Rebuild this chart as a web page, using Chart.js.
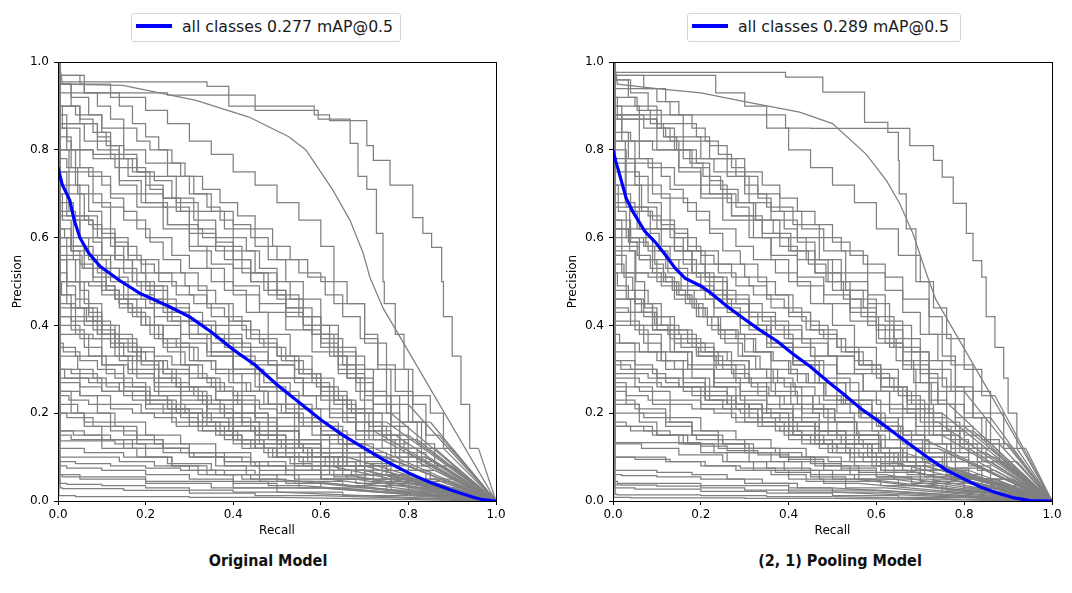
<!DOCTYPE html>
<html>
<head>
<meta charset="utf-8">
<script src="https://cdn.jsdelivr.net/npm/chart.js@4"></script>
<style>
  html, body { margin: 0; padding: 0; background: #fff; }
  body { width: 1072px; height: 593px; position: relative; overflow: hidden; }
  canvas { position: absolute; }
  .legend {
    position: absolute; top: 13px; height: 27px;
    border: 1px solid #d6d6d6; border-radius: 3px; background: #fff;
    font-family: "DejaVu Sans", sans-serif; font-size: 15.7px; color: #1a1a1a;
  }
  .legend .swatch { position: absolute; left: 4px; top: 10px; width: 36px; height: 4px; background: #0000ff; }
  .legend .label { position: absolute; left: 50px; top: 3px; line-height: 20px; white-space: nowrap; }
  .title {
    position: absolute; top: 551px; width: 300px; text-align: center;
    font-family: "Liberation Sans Narrow", "DejaVu Sans Condensed", sans-serif;
    font-weight: 700; font-size: 16px; color: #111;
  }
</style>
</head>
<body>
<canvas id="origChart" width="530" height="495" style="left:0px;top:50px"></canvas>
<canvas id="poolChart" width="517" height="495" style="left:555px;top:50px"></canvas>
<div class="legend" id="origLegend" style="left:131px;width:268px"><div class="swatch"></div><div class="label"></div></div>
<div class="legend" id="poolLegend" style="left:687px;width:272px"><div class="swatch"></div><div class="label"></div></div>
<div class="title" id="origTitle" style="left:118px"></div>
<div class="title" id="poolTitle" style="left:690px"></div>
<script>
const tickValues = [0, 0.2, 0.4, 0.6, 0.8, 1.0];
const legendOrig = "all classes 0.277 mAP@0.5";
const legendPool = "all classes 0.289 mAP@0.5";
const titleOrig = "Original Model";
const titlePool = "(2, 1) Pooling Model";
const xTitle = "Recall";
const yTitle = "Precision";

// mean PR curve over all classes (blue)
const meanRecallOrig = [0, 0.005, 0.01, 0.02, 0.027, 0.037, 0.05, 0.07, 0.096, 0.14, 0.187, 0.25, 0.3, 0.35, 0.4, 0.45, 0.5, 0.55, 0.6, 0.65, 0.7, 0.75, 0.8, 0.85, 0.9, 0.95, 0.97, 1.0];
const meanPrecOrig   = [0.76, 0.74, 0.72, 0.70, 0.685, 0.64, 0.60, 0.565, 0.535, 0.503, 0.473, 0.445, 0.42, 0.385, 0.345, 0.31, 0.265, 0.225, 0.185, 0.15, 0.12, 0.09, 0.064, 0.042, 0.024, 0.008, 0.003, 0];
const meanRecallPool = [0, 0.006, 0.012, 0.03, 0.045, 0.072, 0.096, 0.12, 0.142, 0.165, 0.2, 0.22, 0.258, 0.296, 0.334, 0.374, 0.41, 0.45, 0.49, 0.53, 0.565, 0.605, 0.645, 0.683, 0.72, 0.76, 0.8, 0.837, 0.875, 0.914, 0.95, 1.0];
const meanPrecPool   = [0.80, 0.775, 0.755, 0.69, 0.66, 0.615, 0.59, 0.56, 0.53, 0.507, 0.49, 0.476, 0.445, 0.417, 0.39, 0.364, 0.335, 0.306, 0.272, 0.24, 0.21, 0.182, 0.152, 0.124, 0.097, 0.07, 0.05, 0.032, 0.018, 0.007, 0.001, 0];

// the one densely sampled class curve: recall, precision pairs
const smoothOrig = [0.003,1, 0.01,0.95, 0.148,0.947, 0.315,0.913, 0.436,0.875, 0.527,0.83, 0.566,0.8, 0.628,0.708, 0.667,0.639, 0.697,0.564, 0.712,0.51, 0.742,0.44];
const smoothPool = [0.003,1, 0.01,0.95, 0.1,0.94, 0.2,0.93, 0.3,0.91, 0.425,0.886, 0.5,0.86, 0.577,0.79, 0.623,0.73, 0.653,0.678, 0.683,0.61, 0.714,0.518, 0.735,0.46];

// per-class precision steps: recall where the level starts, precision level
const classStepsOrig = [
  [0.003,1, 0.34,0.955, 0.39,0.945, 0.585,0.9, 0.62,0.88, 0.705,0.867, 0.72,0.81, 0.758,0.776, 0.81,0.72, 0.833,0.646, 0.853,0.61, 0.876,0.578, 0.88,0.5, 0.9,0.42, 0.92,0.33, 0.94,0.22, 0.96,0.12],
  [0.003,1, 0.06,0.95, 0.25,0.93, 0.45,0.925, 0.594,0.89, 0.667,0.87, 0.685,0.815, 0.705,0.74, 0.727,0.71, 0.742,0.61, 0.745,0.5, 0.77,0.45, 0.79,0.38, 0.81,0.3, 0.84,0.22, 0.87,0.15],
  [0.002,1, 0.05,0.97, 0.12,0.95, 0.2,0.92, 0.25,0.89, 0.3,0.86, 0.35,0.82, 0.4,0.79, 0.45,0.75, 0.5,0.72, 0.55,0.68, 0.6,0.64, 0.63,0.58, 0.66,0.5, 0.7,0.45, 0.73,0.38, 0.76,0.3, 0.8,0.22],
  [0.003,1, 0.04,0.9, 0.1,0.88, 0.15,0.85, 0.2,0.8, 0.25,0.77, 0.3,0.74, 0.35,0.7, 0.4,0.66, 0.44,0.63, 0.48,0.6, 0.52,0.55, 0.56,0.5, 0.6,0.46, 0.64,0.4, 0.68,0.34, 0.72,0.28, 0.76,0.22, 0.8,0.15],
  [0.002,1, 0.06,0.86, 0.12,0.82, 0.18,0.79, 0.22,0.75, 0.26,0.73, 0.31,0.69, 0.36,0.64, 0.4,0.6, 0.45,0.57, 0.5,0.52, 0.55,0.47, 0.6,0.42, 0.65,0.37, 0.7,0.31, 0.75,0.25, 0.78,0.2, 0.82,0.14],
  [0.005,1, 0.03,0.83, 0.08,0.8, 0.14,0.78, 0.18,0.72, 0.24,0.7, 0.3,0.67, 0.36,0.61, 0.42,0.58, 0.47,0.52, 0.52,0.48, 0.58,0.44, 0.62,0.38, 0.66,0.33, 0.7,0.28, 0.74,0.2, 0.77,0.15],
  [0.001,1, 0.02,0.78, 0.07,0.76, 0.12,0.74, 0.18,0.7, 0.25,0.67, 0.32,0.63, 0.38,0.58, 0.44,0.55, 0.5,0.5, 0.56,0.46, 0.62,0.4, 0.68,0.35, 0.72,0.3, 0.78,0.24, 0.84,0.18, 0.88,0.12],
  [0.004,1, 0.05,0.9, 0.09,0.86, 0.14,0.8, 0.19,0.73, 0.24,0.68, 0.3,0.62, 0.35,0.57, 0.4,0.54, 0.46,0.49, 0.52,0.45, 0.58,0.42, 0.64,0.38, 0.7,0.33, 0.75,0.3, 0.8,0.24, 0.83,0.18, 0.86,0.12],
  [0.002,1, 0.03,0.95, 0.07,0.92, 0.1,0.88, 0.12,0.84, 0.16,0.78, 0.2,0.74, 0.25,0.68, 0.3,0.63, 0.34,0.58, 0.38,0.53, 0.43,0.48, 0.48,0.43, 0.53,0.38, 0.58,0.33, 0.63,0.28, 0.68,0.22, 0.72,0.16],
  [0.003,1, 0.08,0.8, 0.13,0.79, 0.2,0.76, 0.27,0.74, 0.32,0.68, 0.38,0.66, 0.45,0.62, 0.5,0.58, 0.55,0.55, 0.6,0.52, 0.63,0.5, 0.7,0.45, 0.75,0.36, 0.8,0.3, 0.85,0.24, 0.88,0.2, 0.9,0.12],
  [0.002,1, 0.05,0.72, 0.1,0.7, 0.15,0.67, 0.2,0.64, 0.26,0.6, 0.3,0.56, 0.35,0.53, 0.4,0.5, 0.46,0.47, 0.52,0.43, 0.58,0.39, 0.64,0.34, 0.7,0.29, 0.76,0.24, 0.82,0.18, 0.86,0.13, 0.9,0.08],
  [0.002,1, 0.02,0.7, 0.05,0.65, 0.1,0.6, 0.15,0.56, 0.2,0.52, 0.25,0.48, 0.3,0.44, 0.35,0.4, 0.4,0.36, 0.45,0.33, 0.5,0.29, 0.55,0.25, 0.6,0.21, 0.65,0.17, 0.7,0.13, 0.75,0.1],
  [0.004,1, 0.04,0.66, 0.08,0.64, 0.13,0.62, 0.18,0.58, 0.23,0.55, 0.29,0.52, 0.34,0.49, 0.39,0.45, 0.44,0.41, 0.5,0.37, 0.55,0.33, 0.6,0.29, 0.65,0.24, 0.7,0.2, 0.76,0.15, 0.8,0.11],
  [0.001,1, 0.03,0.62, 0.08,0.58, 0.14,0.53, 0.19,0.5, 0.24,0.46, 0.3,0.43, 0.36,0.4, 0.42,0.37, 0.48,0.34, 0.54,0.31, 0.6,0.27, 0.66,0.23, 0.72,0.18, 0.78,0.14, 0.84,0.1],
  [0.003,1, 0.02,0.85, 0.04,0.8, 0.07,0.72, 0.1,0.66, 0.13,0.6, 0.17,0.55, 0.21,0.5, 0.25,0.45, 0.3,0.41, 0.35,0.37, 0.4,0.33, 0.45,0.3, 0.5,0.26, 0.55,0.22, 0.6,0.19, 0.66,0.15, 0.72,0.11],
  [0.005,1, 0.06,0.58, 0.12,0.56, 0.18,0.53, 0.24,0.49, 0.3,0.45, 0.36,0.41, 0.42,0.38, 0.48,0.35, 0.54,0.31, 0.6,0.28, 0.66,0.25, 0.72,0.21, 0.78,0.17, 0.83,0.12, 0.87,0.08],
  [0.002,1, 0.01,0.9, 0.05,0.85, 0.08,0.76, 0.12,0.68, 0.16,0.6, 0.2,0.55, 0.25,0.49, 0.3,0.43, 0.35,0.38, 0.4,0.34, 0.46,0.3, 0.52,0.26, 0.58,0.21, 0.64,0.17, 0.7,0.13],
  [0.004,1, 0.03,0.6, 0.07,0.57, 0.11,0.55, 0.16,0.51, 0.22,0.47, 0.28,0.42, 0.34,0.38, 0.4,0.34, 0.47,0.3, 0.53,0.27, 0.59,0.24, 0.65,0.21, 0.71,0.18, 0.77,0.14, 0.82,0.1, 0.86,0.07],
  [0.001,1, 0.04,0.55, 0.1,0.5, 0.16,0.47, 0.22,0.44, 0.28,0.4, 0.34,0.36, 0.4,0.33, 0.46,0.29, 0.52,0.25, 0.58,0.22, 0.64,0.18, 0.7,0.15, 0.76,0.12, 0.82,0.09],
  [0.003,1, 0.07,0.5, 0.13,0.49, 0.2,0.46, 0.26,0.44, 0.32,0.41, 0.38,0.38, 0.44,0.35, 0.5,0.31, 0.56,0.28, 0.62,0.24, 0.68,0.2, 0.74,0.16, 0.8,0.12, 0.85,0.08],
  [0.002,1, 0.02,0.75, 0.05,0.7, 0.09,0.65, 0.13,0.6, 0.17,0.55, 0.22,0.5, 0.27,0.46, 0.33,0.43, 0.39,0.4, 0.44,0.36, 0.5,0.32, 0.56,0.28, 0.62,0.24, 0.68,0.19, 0.74,0.14],
  [0.002,1, 0.03,0.45, 0.08,0.42, 0.13,0.39, 0.18,0.35, 0.24,0.32, 0.3,0.29, 0.36,0.26, 0.42,0.23, 0.48,0.2, 0.54,0.17, 0.6,0.14, 0.66,0.11, 0.72,0.08, 0.78,0.06],
  [0.004,1, 0.05,0.4, 0.1,0.37, 0.16,0.33, 0.22,0.3, 0.28,0.27, 0.34,0.24, 0.4,0.21, 0.46,0.18, 0.52,0.15, 0.58,0.12, 0.64,0.1, 0.7,0.08, 0.76,0.06],
  [0.001,1, 0.02,0.6, 0.05,0.5, 0.09,0.44, 0.13,0.38, 0.17,0.33, 0.22,0.29, 0.28,0.25, 0.34,0.22, 0.4,0.19, 0.46,0.16, 0.52,0.13, 0.58,0.11, 0.64,0.09, 0.7,0.07],
  [0.003,1, 0.04,0.35, 0.1,0.33, 0.16,0.31, 0.22,0.29, 0.28,0.26, 0.34,0.23, 0.4,0.2, 0.46,0.17, 0.52,0.15, 0.58,0.12, 0.64,0.1, 0.7,0.07],
  [0.005,1, 0.13,0.137, 0.2,0.13, 0.28,0.12, 0.36,0.11, 0.44,0.1, 0.52,0.08, 0.6,0.07, 0.68,0.05],
  [0.002,1, 0.06,0.5, 0.1,0.45, 0.14,0.4, 0.18,0.36, 0.23,0.32, 0.28,0.28, 0.33,0.25, 0.38,0.22, 0.44,0.19, 0.5,0.16, 0.56,0.13, 0.62,0.11, 0.68,0.09, 0.74,0.07, 0.8,0.05],
  [0.003,1, 0.03,0.3, 0.09,0.29, 0.15,0.27, 0.21,0.25, 0.27,0.22, 0.33,0.2, 0.39,0.18, 0.45,0.16, 0.51,0.14, 0.57,0.12, 0.63,0.1, 0.7,0.08, 0.76,0.06, 0.82,0.04],
  [0.002,1, 0.02,0.55, 0.04,0.45, 0.07,0.38, 0.11,0.33, 0.15,0.29, 0.2,0.26, 0.26,0.23, 0.32,0.2, 0.38,0.17, 0.44,0.14, 0.5,0.12, 0.56,0.1, 0.62,0.08],
  [0.004,1, 0.07,0.28, 0.14,0.27, 0.2,0.25, 0.27,0.23, 0.33,0.21, 0.39,0.19, 0.45,0.17, 0.5,0.15, 0.56,0.13, 0.62,0.11, 0.68,0.09, 0.74,0.07],
  [0.001,1, 0.03,0.42, 0.06,0.39, 0.1,0.35, 0.15,0.31, 0.2,0.27, 0.25,0.24, 0.3,0.21, 0.36,0.18, 0.42,0.15, 0.48,0.12, 0.54,0.1, 0.6,0.08, 0.66,0.06],
  [0.003,1, 0.05,0.25, 0.12,0.24, 0.19,0.22, 0.26,0.2, 0.33,0.18, 0.4,0.16, 0.47,0.14, 0.54,0.12, 0.61,0.1, 0.68,0.08, 0.75,0.06],
  [0.002,1, 0.04,0.47, 0.08,0.44, 0.12,0.41, 0.17,0.38, 0.22,0.34, 0.27,0.3, 0.32,0.26, 0.37,0.23, 0.42,0.2, 0.48,0.17, 0.54,0.14, 0.6,0.12, 0.66,0.1, 0.72,0.08, 0.78,0.06],
  [0.002,1, 0.02,0.2, 0.08,0.19, 0.15,0.17, 0.22,0.15, 0.3,0.13, 0.38,0.11, 0.46,0.09, 0.54,0.07, 0.62,0.05],
  [0.004,1, 0.03,0.15, 0.1,0.14, 0.18,0.12, 0.26,0.1, 0.34,0.08, 0.42,0.06, 0.5,0.05],
  [0.001,1, 0.14,0.1, 0.22,0.09, 0.3,0.08, 0.38,0.07, 0.46,0.06, 0.55,0.045, 0.64,0.03],
  [0.003,1, 0.02,0.04, 0.1,0.038, 0.2,0.035, 0.3,0.03, 0.4,0.025, 0.5,0.02],
  [0.005,1, 0.01,0.03, 0.15,0.028, 0.3,0.024, 0.45,0.018, 0.6,0.012],
  [0.002,1, 0.03,0.25, 0.06,0.2, 0.1,0.17, 0.15,0.14, 0.2,0.12, 0.26,0.1, 0.32,0.08, 0.4,0.06, 0.48,0.045, 0.56,0.035],
  [0.003,1, 0.05,0.3, 0.09,0.24, 0.13,0.2, 0.18,0.17, 0.24,0.14, 0.3,0.12, 0.36,0.1, 0.43,0.08, 0.5,0.06, 0.58,0.045],
  [0.001,1, 0.02,0.08, 0.1,0.075, 0.2,0.07, 0.3,0.06, 0.4,0.05, 0.5,0.04, 0.6,0.03],
  [0.002,1, 0.04,0.012, 0.3,0.01, 0.5,0.008],
  [0.004,1, 0.06,0.2, 0.12,0.18, 0.18,0.16, 0.24,0.14, 0.3,0.12, 0.38,0.1, 0.46,0.08, 0.54,0.06, 0.62,0.04],
  [0.002,1, 0.14,0.93, 0.17,0.9, 0.2,0.86, 0.23,0.83, 0.26,0.8, 0.28,0.77, 0.31,0.74, 0.34,0.7, 0.37,0.67, 0.4,0.64, 0.43,0.6, 0.46,0.57, 0.5,0.53, 0.53,0.5, 0.56,0.46, 0.6,0.42, 0.63,0.38, 0.66,0.33, 0.69,0.28, 0.72,0.23, 0.75,0.18],
  [0.003,1, 0.09,0.86, 0.12,0.83, 0.15,0.81, 0.18,0.78, 0.21,0.75, 0.24,0.71, 0.27,0.69, 0.3,0.66, 0.33,0.62, 0.36,0.6, 0.4,0.57, 0.44,0.53, 0.48,0.5, 0.52,0.47, 0.56,0.43, 0.6,0.39, 0.64,0.36, 0.68,0.31, 0.72,0.27, 0.76,0.22, 0.8,0.17, 0.84,0.12],
  [0.002,1, 0.03,0.42, 0.06,0.41, 0.1,0.4, 0.14,0.38, 0.18,0.37, 0.22,0.35, 0.26,0.33, 0.3,0.31, 0.34,0.29, 0.38,0.27, 0.42,0.25, 0.46,0.23, 0.5,0.21, 0.54,0.19, 0.58,0.17, 0.62,0.15, 0.66,0.13, 0.7,0.11, 0.74,0.09, 0.8,0.07, 0.86,0.05],
  [0.004,1, 0.045,0.33, 0.08,0.3, 0.11,0.28, 0.14,0.26, 0.17,0.25, 0.2,0.23, 0.24,0.22, 0.28,0.2, 0.32,0.19, 0.36,0.17, 0.4,0.16, 0.45,0.14, 0.5,0.12, 0.55,0.11, 0.6,0.09, 0.65,0.08, 0.7,0.06, 0.76,0.05],
  [0.002,1, 0.02,0.52, 0.04,0.49, 0.07,0.46, 0.1,0.43, 0.13,0.4, 0.16,0.37, 0.19,0.35, 0.22,0.32, 0.26,0.3, 0.3,0.27, 0.34,0.25, 0.38,0.22, 0.42,0.2, 0.46,0.18, 0.5,0.16, 0.55,0.14, 0.6,0.12, 0.65,0.1, 0.7,0.08, 0.76,0.06, 0.82,0.045],
  [0.003,1, 0.07,0.65, 0.1,0.63, 0.13,0.61, 0.16,0.59, 0.19,0.56, 0.22,0.54, 0.26,0.52, 0.3,0.49, 0.34,0.47, 0.38,0.44, 0.42,0.42, 0.46,0.39, 0.5,0.36, 0.54,0.33, 0.58,0.3, 0.62,0.27, 0.66,0.24, 0.7,0.21, 0.74,0.18, 0.78,0.15, 0.82,0.12, 0.86,0.09],
  [0.001,1, 0.012,0.36, 0.05,0.34, 0.09,0.32, 0.13,0.3, 0.17,0.28, 0.21,0.26, 0.25,0.24, 0.29,0.22, 0.33,0.2, 0.37,0.18, 0.41,0.16, 0.45,0.14, 0.49,0.12, 0.53,0.1, 0.58,0.085, 0.63,0.07, 0.68,0.055],
  [0.002,1, 0.055,0.56, 0.08,0.53, 0.11,0.5, 0.14,0.48, 0.17,0.45, 0.2,0.42, 0.23,0.4, 0.27,0.37, 0.31,0.35, 0.35,0.32, 0.39,0.3, 0.43,0.27, 0.47,0.25, 0.51,0.22, 0.55,0.2, 0.6,0.17, 0.65,0.14, 0.7,0.11, 0.75,0.085, 0.8,0.06],
  [0.004,1, 0.1,0.75, 0.12,0.72, 0.15,0.69, 0.18,0.66, 0.21,0.62, 0.24,0.59, 0.28,0.55, 0.32,0.52, 0.36,0.48, 0.4,0.45, 0.44,0.41, 0.48,0.38, 0.52,0.35, 0.56,0.32, 0.6,0.29, 0.64,0.26, 0.68,0.23, 0.72,0.2, 0.76,0.16, 0.8,0.13, 0.84,0.1],
  [0.002,1, 0.025,0.24, 0.07,0.23, 0.12,0.22, 0.17,0.21, 0.22,0.2, 0.27,0.19, 0.32,0.17, 0.37,0.16, 0.42,0.15, 0.47,0.13, 0.52,0.12, 0.57,0.1, 0.62,0.09, 0.67,0.07, 0.72,0.06, 0.78,0.045],
  [0.003,1, 0.035,0.68, 0.05,0.64, 0.07,0.6, 0.09,0.56, 0.11,0.52, 0.13,0.49, 0.16,0.46, 0.19,0.43, 0.22,0.4, 0.25,0.37, 0.29,0.34, 0.33,0.31, 0.37,0.28, 0.41,0.25, 0.45,0.22, 0.5,0.19, 0.55,0.16, 0.6,0.13, 0.65,0.1, 0.7,0.08],
  [0.001,1, 0.008,0.5, 0.03,0.47, 0.06,0.44, 0.09,0.41, 0.12,0.38, 0.15,0.36, 0.19,0.33, 0.23,0.31, 0.27,0.28, 0.31,0.26, 0.35,0.24, 0.4,0.22, 0.45,0.2, 0.5,0.18, 0.55,0.16, 0.6,0.14, 0.65,0.12, 0.7,0.1, 0.75,0.08, 0.8,0.06, 0.85,0.04],
  [0.005,1, 0.06,0.16, 0.12,0.15, 0.18,0.14, 0.24,0.13, 0.3,0.12, 0.36,0.11, 0.42,0.1, 0.48,0.09, 0.54,0.08, 0.6,0.07, 0.66,0.06, 0.72,0.05, 0.8,0.04],
  [0.002,1, 0.04,0.09, 0.12,0.085, 0.2,0.08, 0.28,0.075, 0.36,0.07, 0.44,0.06, 0.52,0.05, 0.6,0.04, 0.7,0.03],
  [0.003,1, 0.12,0.6, 0.15,0.58, 0.19,0.55, 0.23,0.52, 0.27,0.5, 0.31,0.47, 0.35,0.45, 0.39,0.42, 0.43,0.4, 0.47,0.37, 0.51,0.35, 0.55,0.32, 0.59,0.29, 0.63,0.26, 0.67,0.23, 0.71,0.2, 0.75,0.17, 0.79,0.14, 0.84,0.11, 0.88,0.08],
  [0.002,1, 0.02,0.88, 0.03,0.82, 0.045,0.76, 0.06,0.7, 0.08,0.64, 0.1,0.59, 0.12,0.55, 0.15,0.5, 0.18,0.46, 0.21,0.42, 0.24,0.38, 0.28,0.35, 0.32,0.31, 0.36,0.28, 0.4,0.25, 0.45,0.22, 0.5,0.19, 0.55,0.16, 0.6,0.13, 0.66,0.1],
  [0.004,1, 0.05,0.27, 0.1,0.26, 0.15,0.25, 0.2,0.24, 0.25,0.22, 0.3,0.21, 0.35,0.2, 0.4,0.18, 0.45,0.17, 0.5,0.15, 0.55,0.14, 0.6,0.12, 0.65,0.11, 0.7,0.09, 0.75,0.08, 0.8,0.06, 0.86,0.05],
  [0.001,1, 0.015,0.62, 0.03,0.6, 0.05,0.57, 0.08,0.54, 0.11,0.51, 0.14,0.48, 0.17,0.45, 0.2,0.43, 0.24,0.4, 0.28,0.37, 0.32,0.35, 0.36,0.32, 0.4,0.3, 0.44,0.27, 0.48,0.25, 0.52,0.22, 0.56,0.2, 0.6,0.17, 0.65,0.15, 0.7,0.12, 0.75,0.1, 0.8,0.08],
  [0.003,1, 0.03,0.95, 0.05,0.9, 0.08,0.87, 0.11,0.84, 0.14,0.81, 0.17,0.78, 0.2,0.75, 0.24,0.72, 0.28,0.69, 0.32,0.66, 0.36,0.62, 0.4,0.59, 0.44,0.55, 0.48,0.52, 0.52,0.48, 0.56,0.44, 0.6,0.4, 0.64,0.35, 0.68,0.3, 0.72,0.25, 0.76,0.2],
  [0.002,1, 0.01,0.06, 0.2,0.055, 0.4,0.045, 0.6,0.03],
  [0.004,1, 0.08,0.38, 0.12,0.37, 0.16,0.35, 0.2,0.34, 0.25,0.32, 0.3,0.3, 0.35,0.28, 0.4,0.26, 0.45,0.24, 0.5,0.22, 0.55,0.2, 0.6,0.18, 0.65,0.15, 0.7,0.13, 0.75,0.11, 0.8,0.09, 0.85,0.07, 0.9,0.05],
  [0.002,1, 0.06,0.97, 0.09,0.93, 0.12,0.9, 0.15,0.87, 0.18,0.85, 0.21,0.82, 0.25,0.8, 0.29,0.77, 0.33,0.74, 0.37,0.71, 0.41,0.68, 0.45,0.65, 0.49,0.62, 0.53,0.58, 0.57,0.55, 0.61,0.51, 0.65,0.47, 0.69,0.42, 0.73,0.37, 0.77,0.31, 0.81,0.25, 0.85,0.18],
  [0.002,1, 0.015,0.3, 0.1,0.28, 0.2,0.25, 0.3,0.21, 0.4,0.17, 0.5,0.13, 0.6,0.1, 0.7,0.07, 0.8,0.05, 0.9,0.03],
  [0.003,1, 0.045,0.22, 0.12,0.2, 0.2,0.18, 0.28,0.15, 0.36,0.13, 0.44,0.11, 0.52,0.09, 0.6,0.07, 0.7,0.05, 0.8,0.035, 0.9,0.02],
  [0.001,1, 0.06,0.12, 0.15,0.11, 0.25,0.1, 0.35,0.085, 0.45,0.07, 0.55,0.06, 0.65,0.045, 0.75,0.035, 0.85,0.02],
  [0.002,1, 0.025,0.8, 0.035,0.66, 0.05,0.55, 0.07,0.48, 0.1,0.42, 0.14,0.37, 0.18,0.32, 0.23,0.28, 0.28,0.24, 0.34,0.2, 0.4,0.17, 0.47,0.14, 0.54,0.11, 0.62,0.08, 0.7,0.06, 0.8,0.04],
  [0.004,1, 0.065,0.44, 0.1,0.41, 0.14,0.38, 0.19,0.35, 0.24,0.32, 0.3,0.29, 0.36,0.26, 0.42,0.23, 0.48,0.2, 0.55,0.17, 0.62,0.14, 0.69,0.11, 0.76,0.08, 0.84,0.05, 0.92,0.03],
  [0.003,1, 0.01,0.7, 0.03,0.64, 0.06,0.58, 0.1,0.53, 0.14,0.48, 0.19,0.44, 0.24,0.4, 0.3,0.36, 0.36,0.32, 0.42,0.29, 0.48,0.25, 0.54,0.22, 0.6,0.19, 0.66,0.16, 0.72,0.13, 0.78,0.1, 0.84,0.07, 0.9,0.045],
  [0.002,1, 0.05,0.06, 0.2,0.05, 0.35,0.04, 0.5,0.03, 0.65,0.02, 0.8,0.012],
  [0.001,1, 0.035,0.16, 0.1,0.15, 0.17,0.14, 0.24,0.12, 0.31,0.11, 0.38,0.1, 0.45,0.09, 0.52,0.08, 0.6,0.06, 0.68,0.05, 0.76,0.04, 0.85,0.025]
];

const classStepsPool = [
  [0.003,1, 0.393,0.977, 0.478,0.966, 0.573,0.932, 0.626,0.863, 0.65,0.84, 0.652,0.776, 0.668,0.7, 0.69,0.62, 0.72,0.5, 0.75,0.42, 0.78,0.33, 0.8,0.25],
  [0.003,1, 0.393,0.88, 0.45,0.85, 0.676,0.849, 0.73,0.81, 0.75,0.776, 0.775,0.738, 0.805,0.678, 0.82,0.61, 0.84,0.548, 0.85,0.51, 0.87,0.42, 0.89,0.35, 0.9,0.28, 0.92,0.2, 0.94,0.12],
  [0.002,1, 0.234,0.97, 0.3,0.93, 0.35,0.9, 0.4,0.85, 0.45,0.8, 0.5,0.76, 0.55,0.72, 0.6,0.68, 0.65,0.62, 0.7,0.56, 0.73,0.5, 0.76,0.44, 0.8,0.37, 0.84,0.3, 0.87,0.24],
  [0.002,1, 0.05,0.92, 0.1,0.9, 0.16,0.86, 0.22,0.82, 0.28,0.78, 0.33,0.74, 0.38,0.7, 0.43,0.66, 0.48,0.62, 0.53,0.57, 0.58,0.52, 0.62,0.47, 0.66,0.41, 0.7,0.35, 0.74,0.29, 0.78,0.22, 0.82,0.16],
  [0.003,1, 0.07,0.88, 0.12,0.85, 0.2,0.83, 0.26,0.78, 0.31,0.74, 0.36,0.68, 0.42,0.64, 0.47,0.6, 0.52,0.55, 0.58,0.5, 0.63,0.45, 0.68,0.4, 0.72,0.34, 0.76,0.28, 0.8,0.22, 0.84,0.15],
  [0.004,1, 0.04,0.84, 0.09,0.82, 0.15,0.8, 0.2,0.75, 0.26,0.72, 0.32,0.68, 0.38,0.64, 0.44,0.6, 0.49,0.55, 0.54,0.5, 0.6,0.46, 0.64,0.4, 0.68,0.35, 0.72,0.3, 0.76,0.23, 0.8,0.17],
  [0.001,1, 0.03,0.8, 0.08,0.78, 0.14,0.76, 0.2,0.72, 0.27,0.69, 0.34,0.65, 0.4,0.6, 0.46,0.57, 0.52,0.52, 0.58,0.48, 0.64,0.42, 0.7,0.37, 0.75,0.32, 0.8,0.26, 0.86,0.2, 0.9,0.13],
  [0.005,1, 0.06,0.9, 0.1,0.87, 0.15,0.82, 0.2,0.76, 0.25,0.7, 0.31,0.64, 0.36,0.6, 0.42,0.56, 0.48,0.51, 0.54,0.47, 0.6,0.43, 0.66,0.39, 0.72,0.34, 0.77,0.3, 0.82,0.25, 0.85,0.19, 0.88,0.13],
  [0.002,1, 0.04,0.96, 0.08,0.93, 0.11,0.89, 0.14,0.85, 0.18,0.8, 0.22,0.76, 0.27,0.7, 0.32,0.65, 0.36,0.6, 0.4,0.55, 0.45,0.5, 0.5,0.45, 0.55,0.4, 0.6,0.35, 0.65,0.3, 0.7,0.24, 0.74,0.18],
  [0.003,1, 0.1,0.82, 0.16,0.8, 0.23,0.78, 0.3,0.75, 0.35,0.7, 0.41,0.67, 0.47,0.63, 0.52,0.6, 0.57,0.57, 0.62,0.54, 0.66,0.51, 0.72,0.46, 0.77,0.38, 0.82,0.31, 0.86,0.25, 0.89,0.2, 0.92,0.12],
  [0.002,1, 0.06,0.75, 0.11,0.72, 0.17,0.69, 0.22,0.66, 0.28,0.62, 0.32,0.58, 0.37,0.55, 0.42,0.52, 0.48,0.49, 0.54,0.45, 0.6,0.41, 0.66,0.36, 0.72,0.31, 0.78,0.25, 0.84,0.19, 0.88,0.14, 0.92,0.09],
  [0.002,1, 0.03,0.72, 0.06,0.67, 0.11,0.62, 0.16,0.58, 0.21,0.54, 0.26,0.5, 0.31,0.46, 0.36,0.42, 0.41,0.38, 0.46,0.35, 0.51,0.31, 0.56,0.27, 0.61,0.23, 0.66,0.19, 0.71,0.15, 0.76,0.11],
  [0.004,1, 0.05,0.68, 0.09,0.66, 0.14,0.64, 0.19,0.6, 0.24,0.57, 0.3,0.54, 0.35,0.51, 0.4,0.47, 0.45,0.43, 0.51,0.39, 0.56,0.35, 0.61,0.31, 0.66,0.26, 0.71,0.21, 0.77,0.16, 0.81,0.12],
  [0.001,1, 0.04,0.64, 0.09,0.6, 0.15,0.55, 0.2,0.52, 0.25,0.48, 0.31,0.45, 0.37,0.42, 0.43,0.39, 0.49,0.36, 0.55,0.33, 0.61,0.29, 0.67,0.25, 0.73,0.2, 0.79,0.15, 0.85,0.11],
  [0.003,1, 0.02,0.88, 0.05,0.82, 0.08,0.74, 0.11,0.68, 0.14,0.62, 0.18,0.57, 0.22,0.52, 0.26,0.47, 0.31,0.43, 0.36,0.39, 0.41,0.35, 0.46,0.31, 0.51,0.27, 0.56,0.23, 0.62,0.2, 0.68,0.16, 0.74,0.12],
  [0.005,1, 0.07,0.6, 0.13,0.58, 0.19,0.55, 0.25,0.51, 0.31,0.47, 0.37,0.43, 0.43,0.4, 0.49,0.37, 0.55,0.33, 0.61,0.3, 0.67,0.26, 0.73,0.22, 0.79,0.18, 0.84,0.13, 0.88,0.09],
  [0.002,1, 0.01,0.92, 0.06,0.87, 0.09,0.78, 0.13,0.7, 0.17,0.62, 0.21,0.57, 0.26,0.51, 0.31,0.45, 0.36,0.4, 0.41,0.36, 0.47,0.32, 0.53,0.27, 0.59,0.22, 0.65,0.18, 0.71,0.14],
  [0.004,1, 0.04,0.62, 0.08,0.59, 0.12,0.57, 0.17,0.53, 0.23,0.49, 0.29,0.44, 0.35,0.4, 0.41,0.36, 0.48,0.32, 0.54,0.28, 0.6,0.25, 0.66,0.22, 0.72,0.19, 0.78,0.15, 0.83,0.11, 0.87,0.07],
  [0.001,1, 0.05,0.57, 0.11,0.52, 0.17,0.49, 0.23,0.46, 0.29,0.42, 0.35,0.38, 0.41,0.35, 0.47,0.31, 0.53,0.27, 0.59,0.23, 0.65,0.19, 0.71,0.16, 0.77,0.13, 0.83,0.09],
  [0.003,1, 0.08,0.52, 0.14,0.51, 0.21,0.48, 0.27,0.46, 0.33,0.43, 0.39,0.4, 0.45,0.37, 0.51,0.33, 0.57,0.29, 0.63,0.25, 0.69,0.21, 0.75,0.17, 0.81,0.13, 0.86,0.09],
  [0.002,1, 0.03,0.78, 0.06,0.72, 0.1,0.67, 0.14,0.62, 0.18,0.57, 0.23,0.52, 0.28,0.48, 0.34,0.45, 0.4,0.41, 0.45,0.37, 0.51,0.33, 0.57,0.29, 0.63,0.25, 0.69,0.2, 0.75,0.15],
  [0.002,1, 0.04,0.46, 0.09,0.43, 0.14,0.4, 0.19,0.36, 0.25,0.33, 0.31,0.3, 0.37,0.27, 0.43,0.24, 0.49,0.21, 0.55,0.18, 0.61,0.15, 0.67,0.12, 0.73,0.09, 0.79,0.06],
  [0.004,1, 0.06,0.41, 0.11,0.38, 0.17,0.34, 0.23,0.31, 0.29,0.28, 0.35,0.25, 0.41,0.22, 0.47,0.19, 0.53,0.16, 0.59,0.13, 0.65,0.11, 0.71,0.09, 0.77,0.07],
  [0.001,1, 0.02,0.62, 0.05,0.52, 0.09,0.45, 0.13,0.39, 0.18,0.34, 0.23,0.3, 0.29,0.26, 0.35,0.23, 0.41,0.2, 0.47,0.17, 0.53,0.14, 0.59,0.12, 0.65,0.1, 0.71,0.08],
  [0.003,1, 0.05,0.36, 0.11,0.34, 0.17,0.32, 0.23,0.3, 0.29,0.27, 0.35,0.24, 0.41,0.21, 0.47,0.18, 0.53,0.16, 0.59,0.13, 0.65,0.11, 0.71,0.08],
  [0.005,1, 0.2,0.133, 0.26,0.125, 0.33,0.115, 0.4,0.105, 0.48,0.095, 0.56,0.08, 0.64,0.065, 0.72,0.05],
  [0.002,1, 0.07,0.2, 0.12,0.19, 0.18,0.17, 0.25,0.15, 0.32,0.13, 0.4,0.11, 0.48,0.09, 0.56,0.07, 0.64,0.05],
  [0.003,1, 0.04,0.31, 0.1,0.3, 0.16,0.28, 0.22,0.26, 0.28,0.23, 0.34,0.21, 0.4,0.19, 0.46,0.17, 0.52,0.15, 0.58,0.13, 0.64,0.11, 0.71,0.09, 0.77,0.07, 0.83,0.05],
  [0.002,1, 0.03,0.56, 0.05,0.46, 0.08,0.39, 0.12,0.34, 0.16,0.3, 0.21,0.27, 0.27,0.24, 0.33,0.21, 0.39,0.18, 0.45,0.15, 0.51,0.13, 0.57,0.11, 0.63,0.09],
  [0.004,1, 0.08,0.29, 0.15,0.28, 0.21,0.26, 0.28,0.24, 0.34,0.22, 0.4,0.2, 0.46,0.18, 0.51,0.16, 0.57,0.14, 0.63,0.12, 0.69,0.1, 0.75,0.08],
  [0.001,1, 0.04,0.43, 0.07,0.4, 0.11,0.36, 0.16,0.32, 0.21,0.28, 0.26,0.25, 0.31,0.22, 0.37,0.19, 0.43,0.16, 0.49,0.13, 0.55,0.11, 0.61,0.09, 0.67,0.07],
  [0.003,1, 0.06,0.26, 0.13,0.25, 0.2,0.23, 0.27,0.21, 0.34,0.19, 0.41,0.17, 0.48,0.15, 0.55,0.13, 0.62,0.11, 0.69,0.09, 0.76,0.07],
  [0.002,1, 0.05,0.48, 0.09,0.45, 0.13,0.42, 0.18,0.39, 0.23,0.35, 0.28,0.31, 0.33,0.27, 0.38,0.24, 0.43,0.21, 0.49,0.18, 0.55,0.15, 0.61,0.13, 0.67,0.11, 0.73,0.09, 0.79,0.07],
  [0.002,1, 0.03,0.18, 0.09,0.17, 0.16,0.15, 0.23,0.13, 0.31,0.11, 0.39,0.09, 0.47,0.07, 0.55,0.05],
  [0.004,1, 0.1,0.07, 0.18,0.065, 0.26,0.06, 0.34,0.05, 0.42,0.04, 0.5,0.03],
  [0.001,1, 0.12,0.1, 0.2,0.09, 0.28,0.08, 0.36,0.07, 0.44,0.06, 0.53,0.045, 0.62,0.03],
  [0.003,1, 0.02,0.037, 0.1,0.036, 0.2,0.034, 0.3,0.03, 0.4,0.025, 0.5,0.02],
  [0.005,1, 0.01,0.015, 0.2,0.014, 0.35,0.012, 0.5,0.01],
  [0.002,1, 0.03,0.27, 0.06,0.22, 0.1,0.18, 0.15,0.15, 0.2,0.13, 0.26,0.11, 0.32,0.09, 0.4,0.07, 0.48,0.05, 0.56,0.04],
  [0.003,1, 0.05,0.32, 0.09,0.26, 0.13,0.22, 0.18,0.18, 0.24,0.15, 0.3,0.13, 0.36,0.11, 0.43,0.09, 0.5,0.07, 0.58,0.05],
  [0.001,1, 0.02,0.06, 0.1,0.058, 0.2,0.055, 0.3,0.05, 0.4,0.04, 0.5,0.03, 0.6,0.02],
  [0.002,1, 0.04,0.008, 0.3,0.007, 0.5,0.006],
  [0.004,1, 0.06,0.22, 0.12,0.2, 0.18,0.18, 0.24,0.16, 0.3,0.14, 0.38,0.12, 0.46,0.1, 0.54,0.08, 0.62,0.06],
  [0.002,1, 0.12,0.94, 0.15,0.91, 0.18,0.88, 0.21,0.85, 0.24,0.82, 0.27,0.79, 0.3,0.76, 0.33,0.72, 0.36,0.69, 0.39,0.66, 0.42,0.62, 0.46,0.59, 0.5,0.55, 0.53,0.52, 0.57,0.48, 0.6,0.44, 0.63,0.4, 0.66,0.35, 0.69,0.3, 0.72,0.25, 0.75,0.2],
  [0.003,1, 0.1,0.87, 0.13,0.85, 0.16,0.82, 0.19,0.8, 0.22,0.77, 0.25,0.73, 0.28,0.7, 0.31,0.67, 0.34,0.64, 0.38,0.61, 0.42,0.58, 0.46,0.55, 0.5,0.52, 0.54,0.48, 0.58,0.44, 0.62,0.4, 0.66,0.36, 0.7,0.32, 0.74,0.27, 0.78,0.22, 0.82,0.17, 0.86,0.12],
  [0.002,1, 0.035,0.44, 0.07,0.43, 0.11,0.42, 0.15,0.4, 0.19,0.38, 0.23,0.36, 0.27,0.34, 0.31,0.32, 0.35,0.3, 0.39,0.28, 0.43,0.26, 0.47,0.24, 0.51,0.22, 0.55,0.2, 0.59,0.18, 0.63,0.16, 0.67,0.14, 0.71,0.12, 0.75,0.1, 0.81,0.075, 0.87,0.05],
  [0.004,1, 0.05,0.34, 0.09,0.31, 0.12,0.29, 0.15,0.27, 0.18,0.26, 0.21,0.24, 0.25,0.23, 0.29,0.21, 0.33,0.2, 0.37,0.18, 0.41,0.17, 0.46,0.15, 0.51,0.13, 0.56,0.12, 0.61,0.1, 0.66,0.085, 0.71,0.07, 0.77,0.055],
  [0.002,1, 0.025,0.54, 0.045,0.51, 0.08,0.48, 0.11,0.45, 0.14,0.42, 0.17,0.39, 0.2,0.37, 0.23,0.34, 0.27,0.32, 0.31,0.29, 0.35,0.27, 0.39,0.24, 0.43,0.22, 0.47,0.2, 0.51,0.18, 0.56,0.16, 0.61,0.14, 0.66,0.12, 0.71,0.09, 0.77,0.07, 0.83,0.05],
  [0.003,1, 0.08,0.67, 0.11,0.65, 0.14,0.63, 0.17,0.61, 0.2,0.58, 0.23,0.56, 0.27,0.54, 0.31,0.51, 0.35,0.49, 0.39,0.46, 0.43,0.44, 0.47,0.41, 0.51,0.38, 0.55,0.35, 0.59,0.32, 0.63,0.29, 0.67,0.26, 0.71,0.23, 0.75,0.2, 0.79,0.16, 0.83,0.13, 0.87,0.1],
  [0.001,1, 0.015,0.38, 0.06,0.36, 0.1,0.34, 0.14,0.32, 0.18,0.3, 0.22,0.28, 0.26,0.26, 0.3,0.24, 0.34,0.22, 0.38,0.2, 0.42,0.18, 0.46,0.16, 0.5,0.14, 0.54,0.12, 0.59,0.1, 0.64,0.08, 0.69,0.065],
  [0.002,1, 0.06,0.58, 0.09,0.55, 0.12,0.52, 0.15,0.5, 0.18,0.47, 0.21,0.44, 0.24,0.42, 0.28,0.39, 0.32,0.37, 0.36,0.34, 0.4,0.32, 0.44,0.29, 0.48,0.27, 0.52,0.24, 0.56,0.22, 0.61,0.19, 0.66,0.16, 0.71,0.13, 0.76,0.1, 0.81,0.07],
  [0.004,1, 0.11,0.77, 0.13,0.74, 0.16,0.71, 0.19,0.68, 0.22,0.64, 0.25,0.61, 0.29,0.57, 0.33,0.54, 0.37,0.5, 0.41,0.47, 0.45,0.43, 0.49,0.4, 0.53,0.37, 0.57,0.34, 0.61,0.31, 0.65,0.28, 0.69,0.25, 0.73,0.21, 0.77,0.17, 0.81,0.14, 0.85,0.11],
  [0.002,1, 0.03,0.25, 0.08,0.24, 0.13,0.23, 0.18,0.22, 0.23,0.21, 0.28,0.2, 0.33,0.18, 0.38,0.17, 0.43,0.16, 0.48,0.14, 0.53,0.13, 0.58,0.11, 0.63,0.1, 0.68,0.08, 0.73,0.07, 0.79,0.05],
  [0.003,1, 0.04,0.7, 0.055,0.66, 0.075,0.62, 0.095,0.58, 0.115,0.54, 0.135,0.51, 0.165,0.48, 0.195,0.45, 0.225,0.42, 0.255,0.39, 0.295,0.36, 0.335,0.33, 0.375,0.3, 0.415,0.27, 0.455,0.24, 0.505,0.21, 0.555,0.18, 0.605,0.15, 0.655,0.12, 0.705,0.09],
  [0.001,1, 0.01,0.52, 0.035,0.49, 0.065,0.46, 0.095,0.43, 0.125,0.4, 0.155,0.38, 0.195,0.35, 0.235,0.33, 0.275,0.3, 0.315,0.28, 0.355,0.26, 0.405,0.24, 0.455,0.22, 0.505,0.2, 0.555,0.18, 0.605,0.16, 0.655,0.14, 0.705,0.12, 0.755,0.09, 0.805,0.07, 0.855,0.05],
  [0.005,1, 0.07,0.17, 0.13,0.16, 0.19,0.15, 0.25,0.14, 0.31,0.13, 0.37,0.12, 0.43,0.11, 0.49,0.1, 0.55,0.09, 0.61,0.08, 0.67,0.07, 0.73,0.06, 0.81,0.045],
  [0.002,1, 0.05,0.1, 0.13,0.095, 0.21,0.09, 0.29,0.08, 0.37,0.075, 0.45,0.065, 0.53,0.055, 0.61,0.045, 0.71,0.035],
  [0.003,1, 0.13,0.62, 0.16,0.6, 0.2,0.57, 0.24,0.54, 0.28,0.52, 0.32,0.49, 0.36,0.47, 0.4,0.44, 0.44,0.42, 0.48,0.39, 0.52,0.37, 0.56,0.34, 0.6,0.31, 0.64,0.28, 0.68,0.25, 0.72,0.22, 0.76,0.19, 0.8,0.16, 0.85,0.12, 0.89,0.09],
  [0.002,1, 0.02,0.9, 0.035,0.84, 0.05,0.78, 0.065,0.72, 0.085,0.66, 0.105,0.61, 0.125,0.57, 0.155,0.52, 0.185,0.48, 0.215,0.44, 0.245,0.4, 0.285,0.37, 0.325,0.33, 0.365,0.3, 0.405,0.27, 0.455,0.24, 0.505,0.21, 0.555,0.18, 0.605,0.15, 0.665,0.11],
  [0.004,1, 0.06,0.28, 0.11,0.27, 0.16,0.26, 0.21,0.25, 0.26,0.23, 0.31,0.22, 0.36,0.21, 0.41,0.19, 0.46,0.18, 0.51,0.16, 0.56,0.15, 0.61,0.13, 0.66,0.12, 0.71,0.1, 0.76,0.09, 0.81,0.07, 0.87,0.05],
  [0.001,1, 0.02,0.64, 0.035,0.62, 0.055,0.59, 0.085,0.56, 0.115,0.53, 0.145,0.5, 0.175,0.47, 0.205,0.45, 0.245,0.42, 0.285,0.39, 0.325,0.37, 0.365,0.34, 0.405,0.32, 0.445,0.29, 0.485,0.27, 0.525,0.24, 0.565,0.22, 0.605,0.19, 0.655,0.17, 0.705,0.14, 0.755,0.11, 0.805,0.09],
  [0.003,1, 0.035,0.96, 0.055,0.92, 0.085,0.89, 0.115,0.86, 0.145,0.83, 0.175,0.8, 0.205,0.77, 0.245,0.74, 0.285,0.71, 0.325,0.68, 0.365,0.64, 0.405,0.61, 0.445,0.57, 0.485,0.54, 0.525,0.5, 0.565,0.46, 0.605,0.42, 0.645,0.37, 0.685,0.32, 0.725,0.27, 0.765,0.22],
  [0.002,1, 0.01,0.045, 0.2,0.04, 0.4,0.035, 0.6,0.025],
  [0.004,1, 0.09,0.4, 0.13,0.39, 0.17,0.37, 0.21,0.36, 0.26,0.34, 0.31,0.32, 0.36,0.3, 0.41,0.28, 0.46,0.26, 0.51,0.24, 0.56,0.22, 0.61,0.2, 0.66,0.17, 0.71,0.15, 0.76,0.13, 0.81,0.1, 0.86,0.08, 0.91,0.05],
  [0.002,1, 0.07,0.97, 0.1,0.94, 0.13,0.91, 0.16,0.88, 0.19,0.86, 0.22,0.83, 0.26,0.81, 0.3,0.78, 0.34,0.75, 0.38,0.72, 0.42,0.69, 0.46,0.66, 0.5,0.63, 0.54,0.59, 0.58,0.56, 0.62,0.52, 0.66,0.48, 0.7,0.43, 0.74,0.38, 0.78,0.32, 0.82,0.26, 0.86,0.19],
  [0.002,1, 0.018,0.32, 0.1,0.3, 0.2,0.26, 0.3,0.22, 0.4,0.18, 0.5,0.14, 0.6,0.11, 0.7,0.08, 0.8,0.055, 0.9,0.03],
  [0.003,1, 0.05,0.23, 0.12,0.21, 0.2,0.19, 0.28,0.16, 0.36,0.14, 0.44,0.12, 0.52,0.1, 0.6,0.075, 0.7,0.055, 0.8,0.04, 0.9,0.02],
  [0.001,1, 0.065,0.13, 0.15,0.12, 0.25,0.105, 0.35,0.09, 0.45,0.075, 0.55,0.06, 0.65,0.05, 0.75,0.035, 0.85,0.02],
  [0.002,1, 0.028,0.82, 0.038,0.68, 0.052,0.57, 0.072,0.5, 0.1,0.44, 0.14,0.39, 0.18,0.34, 0.23,0.3, 0.28,0.26, 0.34,0.22, 0.4,0.18, 0.47,0.15, 0.54,0.12, 0.62,0.09, 0.7,0.065, 0.8,0.045],
  [0.004,1, 0.07,0.46, 0.1,0.43, 0.14,0.4, 0.19,0.37, 0.24,0.34, 0.3,0.31, 0.36,0.28, 0.42,0.25, 0.48,0.22, 0.55,0.19, 0.62,0.15, 0.69,0.12, 0.76,0.09, 0.84,0.06, 0.92,0.035],
  [0.003,1, 0.012,0.72, 0.03,0.66, 0.06,0.6, 0.1,0.55, 0.14,0.5, 0.19,0.46, 0.24,0.42, 0.3,0.38, 0.36,0.34, 0.42,0.3, 0.48,0.27, 0.54,0.23, 0.6,0.2, 0.66,0.17, 0.72,0.14, 0.78,0.11, 0.84,0.075, 0.9,0.05],
  [0.002,1, 0.05,0.03, 0.2,0.027, 0.35,0.022, 0.5,0.018, 0.65,0.012, 0.8,0.008],
  [0.001,1, 0.04,0.17, 0.1,0.16, 0.17,0.15, 0.24,0.13, 0.31,0.12, 0.38,0.11, 0.45,0.1, 0.52,0.085, 0.6,0.07, 0.68,0.055, 0.76,0.04, 0.85,0.025]
];

const GREY = "#808080";
const BLUE = "#0000ff";
const FONT = "'DejaVu Sans', sans-serif";

function pairs(flat) {
  const out = [];
  for (let i = 0; i < flat.length; i += 2) out.push({ x: flat[i], y: flat[i + 1] });
  return out;
}

function buildDatasets(steps, smooth, meanR, meanP) {
  const ds = [];
  const grey = { borderColor: GREY, borderWidth: 1.25, pointRadius: 0, fill: false, order: 2 };
  steps.forEach(s => {
    // PR curves start at (0, 1) and end at (1, 0)
    const pts = [{ x: 0, y: 1 }].concat(pairs(s));
    ds.push(Object.assign({ data: pts, stepped: "after" }, grey));
    ds.push(Object.assign({ data: [pts[pts.length - 1], { x: 1, y: 0 }] }, grey));
  });
  ds.push(Object.assign({ data: [{ x: 0, y: 1 }].concat(pairs(smooth), [{ x: 1, y: 0 }]) }, grey));
  ds.push({
    data: meanR.map((r, i) => ({ x: r, y: meanP[i] })),
    borderColor: BLUE, borderWidth: 3.2, pointRadius: 0, fill: false, order: 0
  });
  return ds;
}

const frame = {
  id: "frame",
  afterDraw(chart) {
    const { ctx, chartArea: a } = chart;
    ctx.save();
    ctx.strokeStyle = "#000";
    ctx.lineWidth = 1;
    ctx.strokeRect(Math.round(a.left) + 0.5, Math.round(a.top) + 0.5, Math.round(a.right - a.left), Math.round(a.bottom - a.top));
    ctx.restore();
  }
};

function axis(title, isY) {
  return {
    type: "linear", min: 0, max: 1,
    afterBuildTicks: s => { s.ticks = tickValues.map(v => ({ value: v })); },
    afterFit: s => { if (isY) s.width = 58; else s.height = 44; },
    grid: { display: true, drawOnChartArea: false, drawTicks: true, tickLength: 4, color: "#000", tickWidth: 1 },
    border: { display: false },
    ticks: { color: "#000", font: { family: FONT, size: 12 }, padding: isY ? 5 : 3, maxRotation: 0, autoSkip: false,
             callback: v => v.toFixed(1) },
    title: { display: true, text: title, color: "#000", font: { family: FONT, size: 12 },
             padding: isY ? { top: 11, bottom: 0 } : { top: 0, bottom: 7 } }
  };
}

function makeChart(id, steps, smooth, meanR, meanP, rightPad) {
  new Chart(document.getElementById(id), {
    type: "line",
    data: { datasets: buildDatasets(steps, smooth, meanR, meanP) },
    options: {
      responsive: false,
      animation: false,
      parsing: false,
      layout: { padding: { left: 0, right: rightPad, top: 12, bottom: 0 } },
      plugins: { legend: { display: false }, tooltip: { enabled: false } },
      scales: { x: axis(xTitle, false), y: axis(yTitle, true) }
    },
    plugins: [frame]
  });
}

makeChart("origChart", classStepsOrig, smoothOrig, meanRecallOrig, meanPrecOrig, 34);
makeChart("poolChart", classStepsPool, smoothPool, meanRecallPool, meanPrecPool, 20);

document.querySelector("#origLegend .label").textContent = legendOrig;
document.querySelector("#poolLegend .label").textContent = legendPool;
document.getElementById("origTitle").textContent = titleOrig;
document.getElementById("poolTitle").textContent = titlePool;
</script>
</body>
</html>
